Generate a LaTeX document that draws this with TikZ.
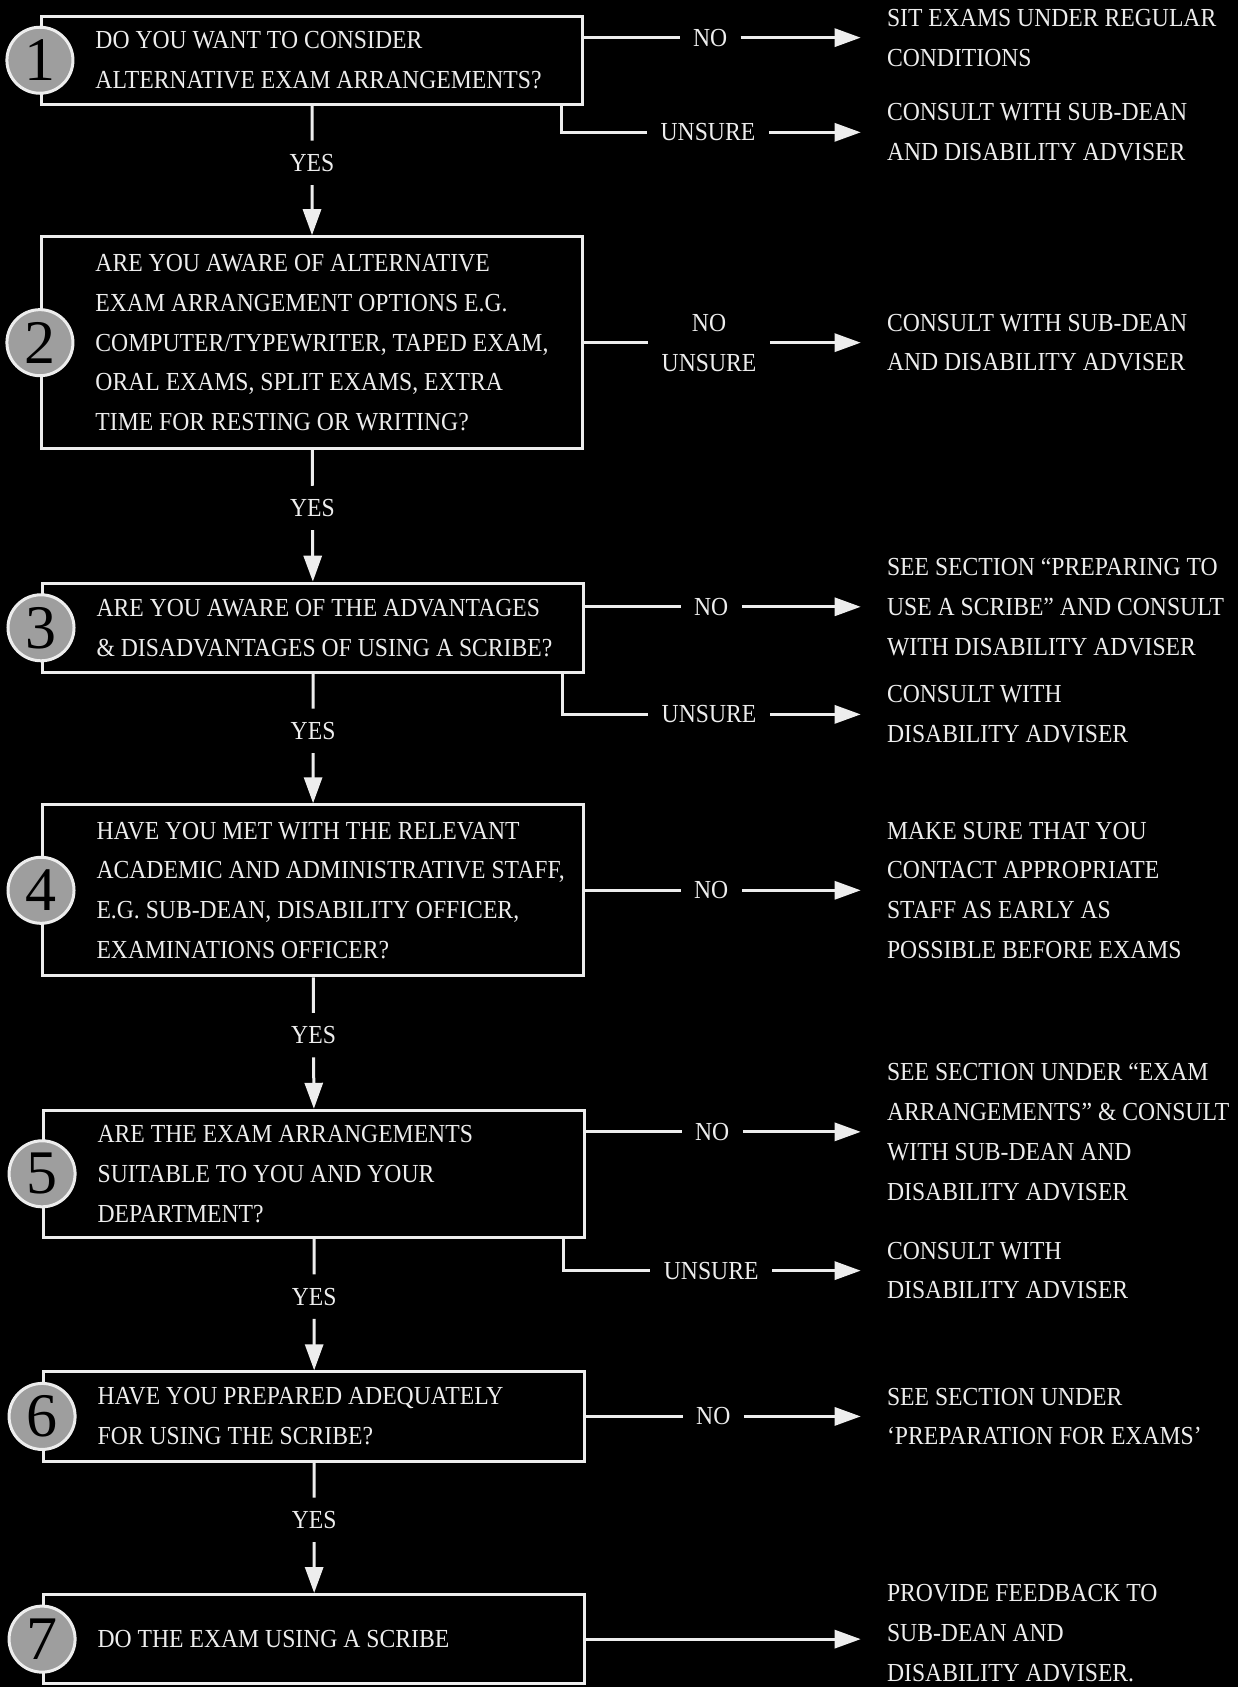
\documentclass[tikz,border=0pt]{standalone}
\usepackage{fontspec}
\setmainfont{Liberation Serif}
\newfontfamily\flowfont{Liberation Serif}[FakeStretch=0.91]
\usepackage{tikz}
\usetikzlibrary{arrows.meta,positioning,calc}
\definecolor{ink}{gray}{0.93}
\definecolor{discgray}{gray}{0.62}

\begin{document}
\begin{tikzpicture}[x=0.5378pt, y=-0.5378pt, color=ink, line width=1.5pt,
    >={Triangle[length=13pt,width=9pt]},
    question/.style={draw=ink, line width=1.5pt, minimum width=270.5pt,
      text width=262.5pt, inner xsep=4pt, align=left,
      font=\flowfont\fontsize{13}{19.9}\selectfont,
      execute at begin node={\leftskip=23pt\rightskip=-12pt plus 1fil
        \spaceskip=0pt\xspaceskip=0pt\relax}},
    disc/.style={circle, draw=ink, fill=discgray, line width=1.5pt,
      minimum size=33pt, inner sep=0pt, text=black,
      font=\fontsize{31}{31}\selectfont},
    answer/.style={align=center, inner xsep=6pt, inner ysep=6pt,
      font=\flowfont\fontsize{13}{19.9}\selectfont},
    result/.style={anchor=west, align=left, inner xsep=12.4pt,
      font=\flowfont\fontsize{13}{19.9}\selectfont}]
  \fill[black] (0,0) rectangle (1151,1568);
  \useasboundingbox (0,0) rectangle (1151,1568);

  % Questions
  \node[question, minimum height=44.1pt] (q1) at (290,56)
    {DO YOU WANT TO CONSIDER\\ALTERNATIVE EXAM ARRANGEMENTS?};
  \node[question, minimum height=105.9pt] (q2) at (290,318.5)
    {ARE YOU AWARE OF ALTERNATIVE\\EXAM ARRANGEMENT OPTIONS E.G.\\
     COMPUTER/TYPEWRITER, TAPED EXAM,\\ORAL EXAMS, SPLIT EXAMS, EXTRA\\
     TIME FOR RESTING OR WRITING?};
  \node[question, minimum height=44.6pt] (q3) at (291,583.5)
    {ARE YOU AWARE OF THE ADVANTAGES\\\& DISADVANTAGES OF USING A SCRIBE?};
  \node[question, minimum height=85.5pt] (q4) at (291,827.5)
    {HAVE YOU MET WITH THE RELEVANT\\ACADEMIC AND ADMINISTRATIVE STAFF,\\
     E.G. SUB-DEAN, DISABILITY OFFICER,\\EXAMINATIONS OFFICER?};
  \node[question, minimum height=63.5pt] (q5) at (292,1091)
    {ARE THE EXAM ARRANGEMENTS\\SUITABLE  TO YOU AND YOUR\\DEPARTMENT?};
  \node[question, minimum height=44.6pt] (q6) at (292,1316.5)
    {HAVE YOU PREPARED ADEQUATELY\\FOR USING THE SCRIBE?};
  \node[question, minimum height=44.6pt] (q7) at (292,1523.5)
    {DO THE EXAM USING A SCRIBE};

  % Numbers
  \foreach \i in {1,...,7}
    \node[disc] (c\i) at (q\i.west) {\i};

  % Yes labels
  \foreach \i/\j in {1/2,2/3,3/4,4/5,5/6,6/7} {
    \node[answer] (y\i) at ($(q\i.south)!0.44!(q\j.north)$) {YES};
    \draw (q\i) -- (y\i);
    \draw[->] (y\i) -- (q\j);
  }

  % No / unsure labels
  \node[answer] (n1) at (660,35) {NO};
  \node[answer] (u1) at (658,123) {UNSURE};
  \node[answer] (n2) at (659,318.5) {NO\\UNSURE};
  \node[answer] (n3) at (661,564) {NO};
  \node[answer] (u3) at (659,664) {UNSURE};
  \node[answer] (n4) at (661,827.5) {NO};
  \node[answer] (n5) at (662,1052) {NO};
  \node[answer] (u5) at (661,1181) {UNSURE};
  \node[answer] (n6) at (663,1316.5) {NO};

  % Outcomes
  \node[result] (o1) at (800,35) {SIT EXAMS UNDER REGULAR\\CONDITIONS};
  \node[result] (p1) at (800,123) {CONSULT WITH SUB-DEAN\\AND DISABILITY ADVISER};
  \node[result] (o2) at (800,318.5) {CONSULT WITH SUB-DEAN\\AND DISABILITY ADVISER};
  \node[result] (o3) at (800,564)
    {SEE SECTION “PREPARING TO\\USE A SCRIBE” AND CONSULT\\WITH  DISABILITY ADVISER};
  \node[result] (p3) at (800,664) {CONSULT WITH\\DISABILITY ADVISER};
  \node[result] (o4) at (800,827.5)
    {MAKE SURE THAT YOU\\CONTACT APPROPRIATE\\STAFF AS EARLY AS\\POSSIBLE BEFORE EXAMS};
  \node[result] (o5) at (800,1052)
    {SEE SECTION UNDER “EXAM\\ARRANGEMENTS” \& CONSULT\\WITH SUB-DEAN AND\\DISABILITY ADVISER};
  \node[result] (p5) at (800,1181) {CONSULT WITH\\DISABILITY ADVISER};
  \node[result] (o6) at (800,1316.5) {SEE SECTION UNDER\\‘PREPARATION FOR EXAMS’};
  \node[result] (o7) at (800,1518)
    {PROVIDE FEEDBACK TO\\SUB-DEAN AND\\DISABILITY ADVISER.};

  % Connectors
  \foreach \i in {1,3,5} {
    \draw (q\i.east |- n\i) -- (n\i);
    \draw[->] (n\i) -- (o\i);
    \draw ([xshift=-11.3pt]q\i.south east) |- (u\i);
    \draw[->] (u\i) -- (p\i);
  }
  \foreach \i in {2,4,6} {
    \draw (q\i) -- (n\i);
    \draw[->] (n\i) -- (o\i);
  }
  \draw[->] (q7) -- (o7.west |- q7);
\end{tikzpicture}
\end{document}
